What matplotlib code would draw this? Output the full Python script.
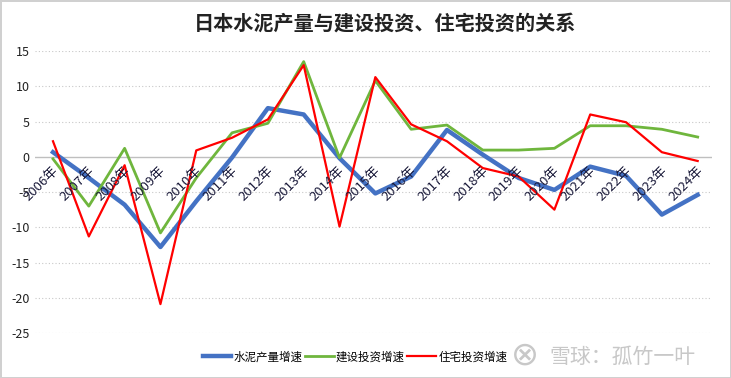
import matplotlib
matplotlib.use("Agg")
import matplotlib.pyplot as plt

plt.rcParams['font.family'] = ['Noto Sans CJK SC', 'DejaVu Sans']

# Data
years = ['2006年', '2007年', '2008年', '2009年', '2010年', '2011年', '2012年',
         '2013年', '2014年', '2015年', '2016年', '2017年', '2018年', '2019年',
         '2020年', '2021年', '2022年', '2023年', '2024年']
cement = [0.65, -3.0, -6.8, -12.8, -6.3, -0.1, 6.9, 6.0, -0.2, -5.2, -2.8,
          3.8, 0.3, -3.0, -4.7, -1.4, -2.7, -8.2, -5.4]
construction = [-0.3, -7.0, 1.2, -10.8, -3.0, 3.4, 4.75, 13.5, -0.15, 10.8,
                3.9, 4.5, 0.95, 0.95, 1.2, 4.4, 4.4, 3.9, 2.8]
housing = [2.2, -11.3, -1.2, -20.9, 0.9, 2.7, 5.3, 13.0, -9.9, 11.3, 4.6,
           2.2, -1.6, -2.8, -7.5, 6.0, 4.9, 0.65, -0.6]
labels = ['水泥产量增速', '建设投资增速', '住宅投资增速']
yticks = [15, 10, 5, 0, -5, -10, -15, -20, -25]

fig = plt.figure(figsize=(7.31, 3.78), dpi=100)
fig.patch.set_edgecolor('#d0d0d0')
fig.patch.set_linewidth(2)
ax = fig.add_axes([0.048, 0.119, 0.926, 0.746])

x = list(range(len(years)))

# grid
for v in yticks:
    if v == 0:
        ax.axhline(v, color='#bfbfbf', lw=1.0, zorder=1)
    else:
        ax.axhline(v, color='#c8c8c8', lw=0.8, ls=(0, (1, 2)), zorder=1)

ax.plot(x, cement, color='#4472c4', lw=3.2, label=labels[0], zorder=3,
        solid_joinstyle='round')
ax.plot(x, construction, color='#6fb63d', lw=2.0, label=labels[1], zorder=4)
ax.plot(x, housing, color='#ff0000', lw=1.6, label=labels[2], zorder=5)

ax.set_xlim(-0.5, len(years) - 0.6)
ax.set_ylim(-25, 15)
ax.set_yticks(yticks)
ax.set_yticklabels([str(v) for v in yticks], fontsize=9, color='#222222')
ax.tick_params(axis='y', length=0, pad=4)
ax.set_xticks([])
for s in ax.spines.values():
    s.set_visible(False)

# category labels sit just below the zero line
for i, lab in enumerate(years):
    ax.text(i + 0.22, -1.1, lab, rotation=45, ha='right', va='top',
            fontsize=9.5, color='#1a1a3a', zorder=6)

fig.text(0.527, 0.94, '日本水泥产量与建设投资、住宅投资的关系', ha='center',
         va='center', fontsize=14.5, fontweight='bold', color='#222222')

fig.legend(loc='center', bbox_to_anchor=(355 / 731, 1 - 357 / 378), ncol=3,
           frameon=False, fontsize=8.3, handlelength=2.5, handletextpad=0.2,
           columnspacing=0.2)

# watermark
fig.text(0.851, 1 - 357 / 378, '雪球：孤竹一叶', ha='center', va='center',
         fontsize=15, color='#c8c8c8')
fig.text(0.718, 1 - 355 / 378, '⊗', ha='center', va='center',
         fontsize=24, color='#c8c8c8', family='DejaVu Sans')

fig.savefig('out.png', dpi=100)
